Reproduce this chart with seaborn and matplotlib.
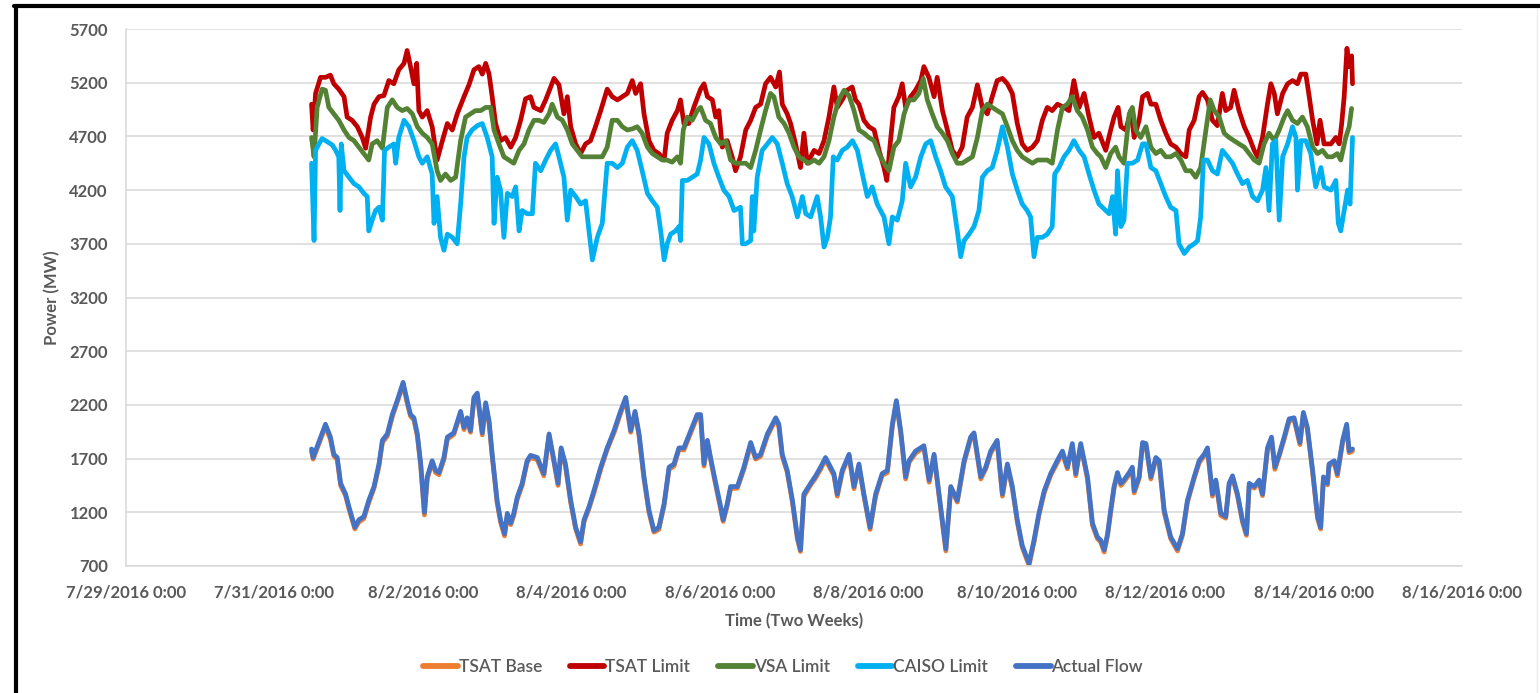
import pandas as pd
import matplotlib.pyplot as plt
from matplotlib.lines import Line2D
import seaborn as sns

# Data: hours after 7/31/2016 12:00 and MW
start = pd.Timestamp('2016-07-31 12:00')

# (hour, TSAT Base, Actual Flow)
flow = [
    (0, 1770, 1790), (0.5, 1695, 1710), (4.5, 2000, 2020), (6.1, 1880, 1900), (7.2, 1725, 1740),
    (8.3, 1690, 1710), (9.4, 1450, 1470), (11, 1355, 1370), (12.1, 1230, 1250), (14, 1045, 1060),
    (15.3, 1110, 1130), (16.9, 1140, 1160), (18.5, 1290, 1310), (20.2, 1425, 1440), (21.8, 1630, 1650),
    (22.9, 1850, 1870), (24.5, 1910, 1930), (26.1, 2090, 2110), (27.7, 2225, 2240), (29.6, 2390, 2410),
    (30.9, 2220, 2240), (32, 2095, 2110), (33.1, 2060, 2080), (34.2, 1910, 1930), (35.3, 1630, 1650),
    (36.5, 1175, 1200), (37.4, 1510, 1530), (39, 1665, 1680), (40.1, 1570, 1590), (41.2, 1550, 1570),
    (42.8, 1690, 1710), (43.9, 1880, 1900), (46, 1925, 1940), (48.2, 2120, 2140), (49.3, 1970, 1990),
    (50.3, 2060, 2080), (51.4, 1945, 1960), (52.5, 2250, 2270), (53.6, 2290, 2310), (55.2, 1920, 1940),
    (56.3, 2200, 2220), (57.4, 2030, 2050), (58.4, 1725, 1740), (60, 1290, 1310), (61.1, 1110, 1130),
    (62.4, 980, 1000), (63.3, 1170, 1190), (64.4, 1085, 1100), (65.4, 1170, 1190), (66.5, 1320, 1340),
    (68.1, 1450, 1470), (69.7, 1665, 1680), (70.8, 1710, 1730), (73, 1690, 1710), (75.1, 1540, 1560),
    (76.8, 1910, 1930), (78.4, 1665, 1680), (79.7, 1450, 1470), (80.7, 1780, 1800), (82.1, 1630, 1650),
    (83.8, 1290, 1310), (85.4, 1045, 1060), (87, 905, 925), (88.1, 1110, 1130), (89.7, 1235, 1250),
    (91.3, 1380, 1400), (93.5, 1600, 1620), (95.6, 1785, 1800), (97.8, 1940, 1960), (99.9, 2120, 2140),
    (101.6, 2250, 2270), (103.2, 1945, 1960), (104.6, 2120, 2140), (105.9, 1910, 1930), (107.5, 1510, 1530),
    (109.1, 1200, 1220), (110.7, 1015, 1030), (112.3, 1040, 1060), (114, 1265, 1280), (115.6, 1600, 1620),
    (117.2, 1630, 1650), (118.8, 1785, 1800), (120.4, 1780, 1800), (122.6, 1940, 1960), (124.7, 2090, 2110),
    (125.8, 2095, 2110), (126.9, 1630, 1650), (128, 1850, 1870), (129, 1695, 1710), (130.7, 1450, 1470),
    (132.3, 1230, 1250), (133.1, 1115, 1130), (134.4, 1260, 1280), (135.5, 1420, 1440), (137.7, 1425, 1440),
    (139.8, 1600, 1620), (142, 1830, 1850), (143.6, 1695, 1710), (145.2, 1720, 1740), (147.4, 1910, 1930),
    (150.1, 2065, 2080), (151.1, 2000, 2020), (152.2, 1720, 1740), (153.8, 1575, 1590), (155.5, 1290, 1310),
    (157.1, 950, 970), (158.1, 835, 850), (159.2, 1350, 1370), (161.4, 1455, 1470), (163, 1520, 1540),
    (164.6, 1600, 1620), (166.2, 1695, 1710), (167.8, 1600, 1620), (168.9, 1545, 1560), (170, 1350, 1370),
    (171.6, 1570, 1590), (173.8, 1725, 1740), (175.4, 1420, 1440), (177, 1630, 1650), (178.6, 1355, 1370),
    (180.6, 1040, 1060), (182.4, 1350, 1370), (184.5, 1545, 1560), (186.2, 1570, 1590), (187.8, 2000, 2020),
    (189.1, 2225, 2240), (190.5, 1940, 1960), (192.1, 1510, 1530), (193.2, 1665, 1680), (195.3, 1750, 1770),
    (198, 1805, 1820), (199.7, 1480, 1500), (201.3, 1725, 1740), (202.9, 1350, 1370), (205.1, 840, 860),
    (206.7, 1420, 1440), (208.8, 1295, 1310), (211, 1660, 1680), (213.1, 1880, 1900), (214.2, 1925, 1940),
    (216.4, 1510, 1530), (218, 1605, 1620), (219.6, 1750, 1770), (221.7, 1850, 1870), (223.4, 1350, 1370),
    (225, 1635, 1650), (226.6, 1420, 1440), (228.2, 1110, 1130), (229.8, 875, 890), (232, 705, 725),
    (233.6, 920, 940), (235.2, 1175, 1190), (236.9, 1380, 1400), (239, 1545, 1560), (241.1, 1660, 1680),
    (242.8, 1750, 1770), (244.4, 1605, 1620), (246, 1820, 1840), (247.1, 1540, 1560), (248.7, 1825, 1840),
    (250.9, 1510, 1530), (252.5, 1080, 1100), (254.1, 955, 970), (255.2, 920, 940), (256.3, 830, 850),
    (257.4, 985, 1000), (258.4, 1200, 1220), (259.5, 1425, 1440), (260.6, 1550, 1570), (261.7, 1450, 1470),
    (262.7, 1485, 1500), (264.4, 1550, 1570), (265.4, 1605, 1620), (266, 1380, 1400), (267.6, 1515, 1530),
    (268.7, 1830, 1850), (269.8, 1825, 1840), (271.4, 1510, 1530), (273, 1695, 1710), (274.1, 1660, 1680),
    (275.7, 1200, 1220), (277.8, 955, 970), (280, 840, 860), (281.6, 985, 1000), (283.2, 1290, 1310),
    (285.4, 1515, 1530), (287, 1660, 1680), (288.6, 1725, 1740), (289.7, 1780, 1800), (291.3, 1350, 1370),
    (292.4, 1485, 1500), (294, 1170, 1190), (295.6, 1145, 1160), (296.7, 1450, 1470), (297.8, 1520, 1540),
    (299.4, 1355, 1370), (301, 1110, 1130), (302.3, 985, 1000), (303.2, 1450, 1470), (304.8, 1425, 1440),
    (306.4, 1480, 1500), (307.5, 1355, 1370), (309.1, 1780, 1800), (310.4, 1885, 1900), (311.5, 1600, 1620),
    (312.9, 1725, 1740), (314.5, 1880, 1900), (316.1, 2050, 2070), (317.7, 2065, 2080), (319.6, 1830, 1850),
    (320.7, 2110, 2130), (322, 1975, 1990), (323.7, 1570, 1590), (325.3, 1140, 1160), (326.3, 1045, 1060),
    (327.2, 1510, 1530), (328.5, 1455, 1470), (329, 1630, 1650), (330.7, 1665, 1680), (331.7, 1540, 1560),
    (333.4, 1850, 1870), (334.7, 2000, 2020), (335.5, 1755, 1770), (336.6, 1770, 1790),
]

tsat_limit = [
    (0, 5000), (0.5, 4760), (1.3, 5100), (2.9, 5250), (4.5, 5250), (6.1, 5270), (7.2, 5190), (8.8, 5140),
    (10.5, 5070), (11.5, 4880), (13.1, 4850), (14.8, 4790), (16.4, 4690), (17.5, 4590), (19.1, 4880),
    (20.2, 5000), (21.8, 5070), (23.4, 5080), (25, 5220), (26.6, 5190), (28.2, 5320), (29.9, 5380),
    (30.9, 5500), (32, 5350), (33.1, 5190), (34, 5380), (34.7, 4940), (35.8, 4880), (37.4, 4940),
    (39, 4790), (40.6, 4480), (42.3, 4660), (43.9, 4820), (45.5, 4760), (47.1, 4910), (49.3, 5070),
    (50.9, 5180), (52.5, 5320), (54.1, 5350), (55.2, 5280), (56.3, 5380), (57.4, 5280), (58.4, 5070),
    (59.5, 4820), (61.1, 4660), (62.7, 4690), (64.4, 4600), (66, 4690), (67.6, 4850), (69.2, 5050),
    (70.8, 5070), (71.9, 4970), (74.1, 4940), (75.7, 5040), (77.3, 5160), (78.4, 5240), (80, 5180),
    (81.6, 4910), (82.7, 5070), (83.8, 4790), (85.4, 4630), (87, 4540), (88.6, 4630), (90.2, 4660),
    (91.8, 4790), (93.5, 4940), (95.6, 5140), (97.2, 5070), (98.9, 5040), (100.5, 5070), (102.1, 5100),
    (103.7, 5220), (104.8, 5100), (106.4, 5190), (107.5, 4910), (109.1, 4660), (110.7, 4570), (112.3, 4540),
    (114, 4480), (115, 4730), (116.6, 4850), (118.3, 4940), (119.3, 5040), (120.4, 4820), (122, 4820),
    (123.6, 4970), (125.8, 5140), (126.9, 5190), (128, 5070), (129.6, 5040), (130.7, 4880), (131.7, 4940),
    (132.8, 4600), (134.4, 4660), (136, 4510), (137.1, 4380), (138.7, 4510), (140.4, 4760), (142, 4850),
    (143.6, 4970), (145.2, 5000), (146.8, 5190), (148.4, 5250), (150.1, 5160), (151.3, 5300), (152.2, 5000),
    (153.8, 4910), (154.9, 4820), (156.5, 4630), (158.1, 4410), (159.2, 4730), (160.3, 4450), (162.5, 4570),
    (164.1, 4540), (165.7, 4660), (167.3, 4880), (168.9, 5160), (170, 4970), (171.6, 5040), (173.2, 5130),
    (174.8, 5160), (175.9, 5040), (177, 5000), (178.6, 4850), (180.2, 4790), (181.9, 4760), (183.5, 4570),
    (185.1, 4410), (186, 4290), (187.2, 4660), (188.3, 4970), (189.9, 5070), (191, 5190), (192.1, 4970),
    (193.7, 5070), (195.3, 5130), (197, 5220), (198, 5350), (199.6, 5250), (201.3, 5070), (202.3, 5250),
    (204, 4940), (205.6, 4760), (207.2, 4570), (208.8, 4510), (210.4, 4600), (212, 4880), (213.7, 4970),
    (215.3, 5180), (216.9, 4970), (218.5, 4910), (220.1, 5070), (221.7, 5220), (223.4, 5240), (225, 5190),
    (226.6, 5100), (228.2, 4820), (229.8, 4630), (231.4, 4570), (233.1, 4600), (234.7, 4660), (236.3, 4850),
    (237.9, 4970), (239.5, 4940), (241.2, 5000), (243.3, 4970), (244.9, 4940), (246.5, 5220), (248.2, 4970),
    (249.8, 5100), (251.4, 4880), (253, 4690), (254.6, 4730), (256.8, 4570), (258.4, 4760), (259.5, 4880),
    (260.8, 4970), (261.7, 4790), (263.3, 4760), (264.9, 4940), (266, 4690), (267.6, 4850), (268.7, 5070),
    (270.3, 5100), (271.4, 5000), (273, 5000), (274.6, 4850), (276.2, 4730), (277.8, 4630), (279.5, 4600),
    (281.1, 4540), (282.7, 4510), (283.8, 4760), (285.4, 4850), (287, 5070), (288.1, 5110), (289.7, 5040),
    (291.3, 4850), (292.9, 4800), (294.5, 5100), (295.6, 4940), (297.2, 4970), (298.3, 5130), (299.9, 4940),
    (301.6, 4790), (303.2, 4690), (304.8, 4570), (305.9, 4510), (307.5, 4690), (309.1, 5000), (310.2, 5190),
    (311.3, 5100), (312.3, 4910), (314, 5100), (315.6, 5190), (317.2, 5220), (318.8, 5190), (319.9, 5280),
    (321.5, 5280), (322.6, 5070), (323.7, 4850), (325.1, 4630), (326.1, 4850), (327.4, 4630), (329.6, 4630),
    (331.2, 4690), (332.3, 4630), (333.1, 4820), (333.9, 5070), (334.8, 5520), (335.5, 5350), (336.3, 5450),
    (336.6, 5190),
]

vsa_limit = [
    (0, 4690), (0.8, 4510), (1.8, 4970), (3.4, 5140), (4.5, 5130), (5.6, 4970), (7.2, 4910), (8.8, 4850),
    (10.5, 4760), (12.1, 4690), (13.7, 4660), (15.3, 4600), (16.9, 4540), (18.5, 4480), (19.6, 4630),
    (21.2, 4660), (22.9, 4590), (24.5, 4970), (26.1, 5040), (27.7, 4970), (29.3, 4940), (30.9, 4960),
    (32.6, 4910), (34.2, 4790), (35.8, 4730), (37.4, 4690), (39, 4630), (40.6, 4380), (41.7, 4290),
    (43.3, 4350), (45, 4290), (46.6, 4320), (48.2, 4660), (49.8, 4880), (51.4, 4910), (53, 4940),
    (54.7, 4940), (56.3, 4970), (57.9, 4970), (59, 4760), (60.6, 4630), (62.2, 4510), (63.8, 4480),
    (65.4, 4450), (67.1, 4570), (68.7, 4630), (70.3, 4760), (71.9, 4850), (73.5, 4850), (75.1, 4830),
    (76.8, 4910), (77.8, 5000), (79.5, 4880), (81.1, 4850), (82.7, 4760), (84.3, 4630), (85.9, 4570),
    (87.5, 4510), (89.2, 4510), (90.8, 4510), (92.4, 4510), (94, 4510), (95.6, 4600), (97.2, 4850),
    (98.9, 4850), (100.5, 4790), (102.1, 4760), (103.7, 4770), (105.3, 4790), (106.9, 4730), (108.6, 4600),
    (110.2, 4540), (111.8, 4510), (113.4, 4480), (115, 4480), (116.6, 4460), (118.3, 4510), (119.3, 4450),
    (120.2, 4760), (121.5, 4880), (123.1, 4850), (124.7, 4940), (125.8, 4970), (127.4, 4850), (129, 4820),
    (130.7, 4690), (132.3, 4630), (133.9, 4660), (135.5, 4480), (137.1, 4450), (138.7, 4450), (140.4, 4450),
    (142, 4410), (143.6, 4570), (145.2, 4760), (146.8, 4940), (148.4, 5100), (149.5, 5070), (151.1, 4880),
    (152.8, 4820), (154.4, 4730), (156, 4600), (157.6, 4510), (159.2, 4480), (160.8, 4450), (162.5, 4480),
    (164.1, 4450), (165.7, 4510), (167.3, 4660), (168.9, 4880), (170.5, 5040), (172.2, 5130), (173.8, 5080),
    (175.4, 4940), (177, 4760), (178.6, 4730), (180.2, 4690), (181.9, 4660), (183.5, 4540), (185.1, 4450),
    (186.7, 4380), (188.3, 4600), (189.9, 4660), (191.6, 4910), (193.2, 5040), (194.8, 5040), (196.4, 5100),
    (197.8, 5240), (199.1, 5040), (200.7, 4910), (202.3, 4790), (204, 4730), (205.6, 4660), (207.2, 4540),
    (208.8, 4450), (210.4, 4450), (212, 4480), (213.7, 4510), (215.3, 4690), (216.9, 4940), (218.5, 5000),
    (220.1, 4970), (221.7, 4940), (223.4, 4910), (225, 4790), (226.6, 4660), (228.2, 4570), (229.8, 4510),
    (231.4, 4480), (233.1, 4450), (234.7, 4480), (236.3, 4480), (237.9, 4480), (239.5, 4450), (241.2, 4760),
    (242.8, 4970), (244.4, 5000), (246, 5070), (247.6, 4940), (249.2, 4880), (250.9, 4760), (252.5, 4600),
    (254.1, 4540), (255.2, 4510), (256.8, 4410), (258.4, 4540), (260, 4600), (261.1, 4510), (262.7, 4450),
    (264.4, 4910), (265.4, 4970), (266.5, 4760), (268.1, 4690), (269.8, 4790), (271.4, 4600), (273, 4540),
    (274.6, 4570), (276.2, 4510), (277.8, 4510), (279.5, 4540), (281.1, 4480), (282.7, 4380), (284.3, 4380),
    (285.9, 4320), (287.5, 4410), (289.2, 4760), (290.6, 5040), (291.9, 4940), (293.5, 4880), (295.1, 4730),
    (296.7, 4690), (298.3, 4660), (299.9, 4630), (301.6, 4600), (303.2, 4540), (304.8, 4480), (306.4, 4450),
    (308, 4630), (309.6, 4730), (311.3, 4660), (312.9, 4760), (314.5, 4880), (315.6, 4940), (317.2, 4850),
    (318.8, 4820), (320.4, 4880), (322, 4790), (323.7, 4600), (325.3, 4540), (326.9, 4570), (328.5, 4510),
    (330.1, 4510), (331.7, 4540), (332.8, 4480), (334.4, 4690), (335.5, 4790), (336.3, 4960),
]

caiso_limit = [
    (0, 4450), (0.8, 3730), (1.3, 4570), (2.4, 4630), (3.4, 4680), (5.1, 4650), (6.7, 4620), (7.8, 4570),
    (8.8, 4510), (9.2, 4010), (9.6, 4630), (10.5, 4380), (12.1, 4320), (13.7, 4260), (15.3, 4230),
    (16.9, 4170), (18, 4140), (18.5, 3820), (19.6, 3920), (20.7, 4010), (21.8, 4040), (22.9, 3920),
    (23.6, 4570), (25, 4600), (26.6, 4630), (27.2, 4450), (28.2, 4690), (29.9, 4850), (31.5, 4790),
    (33.1, 4660), (34.7, 4510), (35.8, 4450), (37.4, 4510), (39, 4350), (39.6, 3890), (40.6, 4140),
    (41.7, 3760), (42.8, 3640), (43.9, 3790), (45.5, 3760), (47.1, 3700), (48.2, 4070), (49.3, 4510),
    (50.3, 4690), (51.9, 4760), (53.6, 4800), (55.2, 4820), (56.8, 4690), (58.4, 4510), (59, 3890),
    (60, 4320), (61.1, 4200), (62.2, 3760), (63.3, 4170), (64.9, 4140), (66, 4230), (67.1, 3820),
    (68.1, 4010), (69.7, 3980), (71.4, 3980), (72.4, 4450), (74.1, 4380), (75.7, 4480), (77.3, 4570),
    (78.9, 4630), (80, 4510), (81.6, 4320), (82.7, 3920), (83.8, 4200), (85.4, 4140), (87, 4070),
    (88.6, 4100), (89.7, 3820), (90.8, 3550), (92.4, 3760), (94, 3890), (95.6, 4450), (97.2, 4450),
    (98.9, 4410), (100.5, 4450), (102.1, 4600), (103.7, 4660), (105.3, 4570), (106.9, 4380), (108.6, 4170),
    (110.2, 4100), (111.8, 4040), (112.9, 3820), (114, 3550), (115, 3700), (116.1, 3790), (117.7, 3820),
    (118.8, 3860), (119.3, 3730), (119.9, 4290), (121.5, 4290), (123.1, 4320), (124.7, 4350), (125.8, 4480),
    (126.9, 4690), (128.5, 4630), (130.1, 4450), (131.7, 4320), (133.3, 4200), (135, 4140), (136.6, 4010),
    (138.7, 4040), (139.3, 3700), (140.4, 3700), (142, 3730), (142.5, 4140), (143, 3820), (144.1, 4320),
    (145.7, 4570), (147.4, 4630), (149, 4690), (150.6, 4630), (152.2, 4450), (153.8, 4260), (155.4, 4140),
    (157.1, 3950), (158.7, 4140), (159.8, 3980), (161.4, 3950), (163.5, 4140), (164.6, 3950), (165.7, 3670),
    (166.8, 3760), (167.8, 3950), (168.7, 4510), (170, 4480), (171.6, 4570), (173.2, 4600), (174.9, 4660),
    (176.5, 4570), (178.1, 4350), (179.7, 4140), (181.3, 4230), (182.9, 4070), (185.1, 3950), (186.7, 3700),
    (187.8, 3950), (189.4, 3920), (191, 4100), (192.1, 4450), (193.7, 4230), (195.3, 4320), (197, 4510),
    (198.6, 4630), (200.2, 4660), (201.8, 4510), (203.4, 4380), (205, 4230), (207.2, 4140), (208.8, 3820),
    (209.9, 3580), (211, 3730), (212.6, 3790), (214.2, 3860), (215.8, 4010), (216.9, 4320), (218.5, 4380),
    (220.1, 4410), (221.7, 4570), (223.4, 4790), (225, 4600), (226.6, 4350), (228.2, 4200), (229.8, 4070),
    (231.4, 4010), (232.5, 3950), (233.6, 3580), (234.7, 3760), (236.3, 3760), (237.9, 3790), (239.5, 3860),
    (240.3, 4350), (241.7, 4410), (243.3, 4510), (244.9, 4570), (246.5, 4660), (248.2, 4570), (249.8, 4510),
    (251.4, 4350), (253, 4200), (254.6, 4070), (256.8, 4010), (257.9, 3980), (259, 4140), (260, 3790),
    (260.6, 4380), (261.7, 3860), (262.7, 3920), (263.8, 4450), (265.4, 4450), (267.1, 4480), (268.7, 4630),
    (269.8, 4630), (271.4, 4410), (273, 4380), (274.6, 4260), (276.2, 4140), (277.8, 4040), (279.5, 4010),
    (280.5, 3700), (282.2, 3610), (283.8, 3670), (285.4, 3700), (286.5, 3730), (287.5, 3950), (288.4, 4480),
    (289.7, 4480), (291.3, 4380), (292.9, 4350), (294.5, 4570), (296.2, 4510), (297.8, 4450), (299.4, 4350),
    (301, 4260), (302.6, 4290), (304.3, 4140), (305.9, 4100), (307.5, 4200), (308.6, 4410), (309.6, 4010),
    (310.7, 4630), (311.8, 4660), (312.9, 3920), (314, 4510), (315.6, 4630), (317.2, 4790), (318.3, 4690),
    (318.8, 4200), (319.9, 4660), (321.5, 4660), (323.1, 4540), (324.7, 4230), (326.4, 4410), (327.4, 4230),
    (329.6, 4200), (331.2, 4290), (332, 3890), (332.8, 3820), (333.9, 4010), (335, 4200), (335.8, 4070),
    (336.6, 4690),
]

series_names = ['TSAT Base', 'TSAT Limit', 'VSA Limit', 'CAISO Limit', 'Actual Flow']
series_colors = ['#ED7D31', '#C00000', '#548235', '#00B0F0', '#4472C4']
y_ticks = list(range(700, 5701, 500))
x_ticks = pd.date_range('2016-07-29', '2016-08-16', freq='2D')
x_labels = [f'{d.month}/{d.day}/{d.year} 0:00' for d in x_ticks]


def to_frame(name, hours, mw):
    return pd.DataFrame({'Time': start + pd.to_timedelta(list(hours), unit='h'),
                         'Power': list(mw), 'Series': name})


f_hours, f_base, f_actual = zip(*flow)
parts = [
    to_frame('TSAT Base', f_hours, f_base),
    to_frame('TSAT Limit', *zip(*tsat_limit)),
    to_frame('VSA Limit', *zip(*vsa_limit)),
    to_frame('CAISO Limit', *zip(*caiso_limit)),
    to_frame('Actual Flow', f_hours, f_actual),
]
df = pd.concat(parts, ignore_index=True)

sns.set_style('white')
plt.rcParams['font.family'] = ['Lato', 'DejaVu Sans']
text_grey = '#595959'

W, H = 1540, 693
fig = plt.figure(figsize=(W / 100, H / 100), dpi=100)
ax = fig.add_axes([126 / W, 1 - 566 / H, (1462 - 126) / W, (566 - 29) / H])

sns.lineplot(data=df, x='Time', y='Power', hue='Series', hue_order=series_names,
             palette=dict(zip(series_names, series_colors)), linewidth=3.4,
             estimator=None, sort=False, legend=False, ax=ax)

ax.set_xlim(x_ticks[0], x_ticks[-1])
ax.set_ylim(700, 5700)
ax.set_yticks(y_ticks)
ax.set_xticks(x_ticks)
ax.set_xticklabels(x_labels)
ax.set_xlabel('')
ax.set_ylabel('')
ax.yaxis.grid(True, color='#D9D9D9', linewidth=1.1)
ax.xaxis.grid(False)
for side in ['top', 'right']:
    ax.spines[side].set_visible(False)
for side in ['left', 'bottom']:
    ax.spines[side].set_color('#D9D9D9')
    ax.spines[side].set_linewidth(1.1)
ax.tick_params(axis='y', length=0, pad=13, labelsize=12, labelcolor=text_grey)
ax.tick_params(axis='x', length=0, pad=13, labelsize=12, labelcolor=text_grey)
for lab in ax.get_xticklabels() + ax.get_yticklabels():
    lab.set_fontweight('bold')

fig.text(52 / W, 1 - 298 / H, 'Power (MW)', rotation=90, ha='center', va='center',
         fontsize=12, fontweight='bold', color=text_grey)
fig.text(794 / W, 1 - 621 / H, 'Time (Two Weeks)', ha='center', va='center',
         fontsize=12, fontweight='bold', color=text_grey)

handles = [Line2D([0], [0], color=c, linewidth=4.2) for c in series_colors]
leg = fig.legend(handles, series_names, loc='center', bbox_to_anchor=(783 / W, 1 - 667 / H),
                 ncol=5, frameon=False, fontsize=12.5, handlelength=2.0, handletextpad=0.05,
                 columnspacing=1.6, labelcolor=text_grey)
for t in leg.get_texts():
    t.set_fontweight('semibold')

# black frame around the picture (left and top edges)
fig.add_artist(Line2D([16 / W, 16 / W], [0, 1 - 6 / H], color='black', linewidth=3))
fig.add_artist(Line2D([14 / W, 1], [1 - 6 / H, 1 - 6 / H], color='black', linewidth=3))
fig.add_artist(Line2D([1537 / W, 1537 / W], [0, 1 - 8 / H], color='#EEEEEE', linewidth=1))

fig.savefig('out.png', dpi=100)
